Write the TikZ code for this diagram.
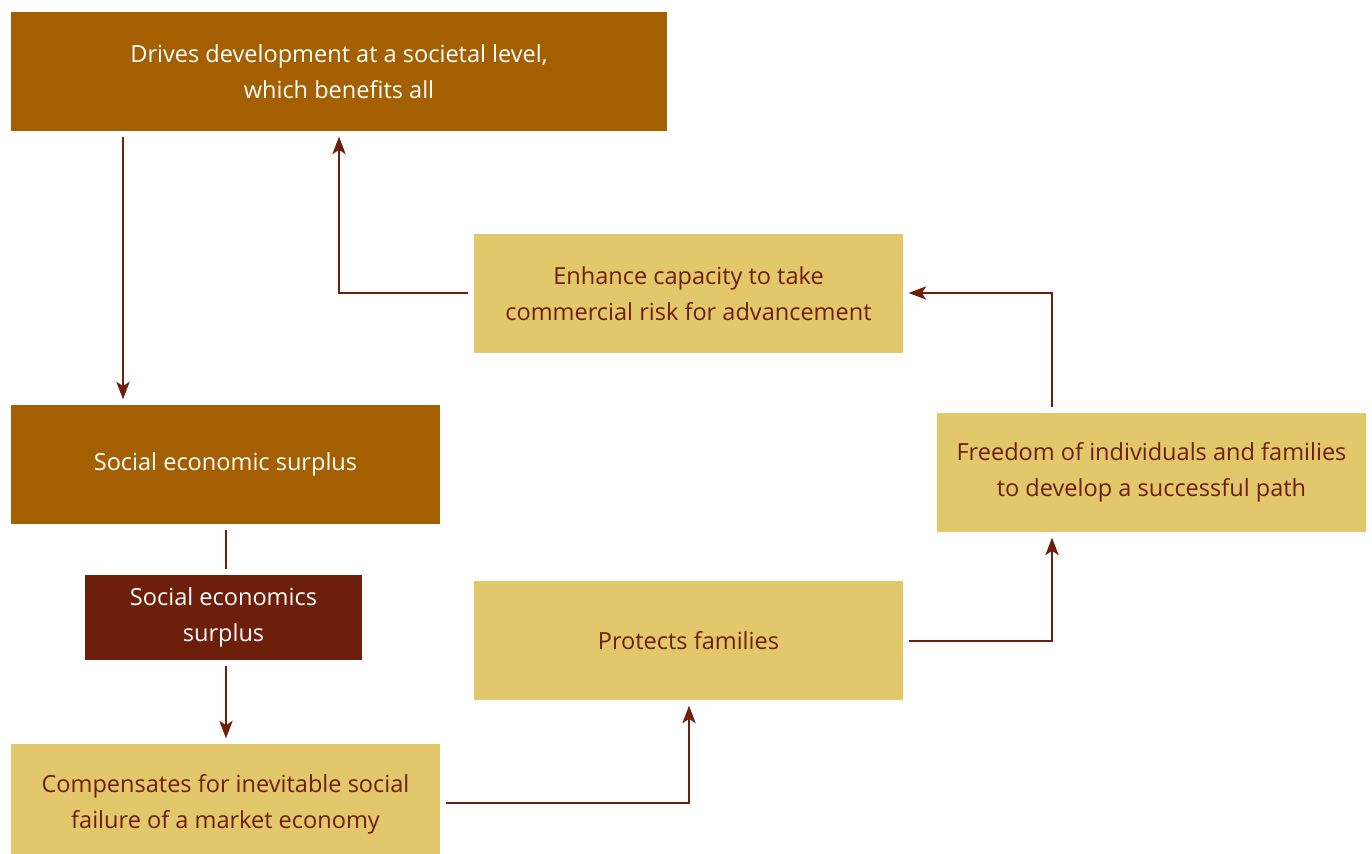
\documentclass[tikz,border=0pt]{standalone}
\usepackage{fontspec}
\setmainfont{Open Sans}
\usetikzlibrary{arrows.meta}
\definecolor{darkbrown}{HTML}{A35F00}
\definecolor{maroon}{HTML}{6E1F0C}
\definecolor{sand}{HTML}{E2C86A}
\begin{document}
\begin{tikzpicture}[x=0.02cm,y=-0.02cm,
    box/.style={inner sep=0pt,align=center,font=\fontsize{13.4}{20.6}\selectfont},
    brownbox/.style={box,fill=darkbrown,text=white},
    redbox/.style={box,fill=maroon,text=white},
    sandbox/.style={box,fill=sand,text=maroon},
    line/.style={draw=maroon,line width=1.3pt},
    link/.style={line,-{Stealth[length=10pt,width=7.5pt,inset=2.5pt]}}]
  \useasboundingbox (0,0) rectangle (1372,854);
  \begin{scope}
    \clip (0,0) rectangle (1372,854);
    \node[brownbox,minimum width=13.12cm,minimum height=2.38cm] (drives) at (339,71.5)
      {Drives development at a societal level,\\which benefits all};
    \node[brownbox,minimum width=8.58cm,minimum height=2.38cm] (surplus) at (225.5,464.5)
      {Social economic surplus};
    \node[redbox,minimum width=5.54cm,minimum height=1.7cm] (economics) at (223.5,617.5)
      {Social economics\\surplus};
    \node[sandbox,minimum width=8.58cm,minimum height=2.4cm] (compensates) at (225.5,804)
      {Compensates for inevitable social\\failure of a market economy};
    \node[sandbox,minimum width=8.58cm,minimum height=2.38cm] (enhance) at (688.5,293.5)
      {Enhance capacity to take\\commercial risk for advancement};
    \node[sandbox,minimum width=8.58cm,minimum height=2.38cm] (protects) at (688.5,640.5)
      {Protects families};
    \node[sandbox,minimum width=8.58cm,minimum height=2.38cm] (freedom) at (1151.5,472.5)
      {Freedom of individuals and families\\to develop a successful path};
  \end{scope}
  \coordinate (drivesdrop) at (123,400);
  \coordinate (surplusdrop) at (226,550);
  \coordinate (enhancecorner) at (339,293);
  \coordinate (freedomcorner) at (1052,293);
  \coordinate (protectscorner) at (1052,641);
  \coordinate (compcorner) at (689,803);
  % connectors
  \begin{scope}[shorten >=3pt,shorten <=3pt]
    \draw[link] (drives.south -| drivesdrop) -- (surplus.north -| drivesdrop);
    \draw[line] (surplus.south -| surplusdrop) -- (economics.north -| surplusdrop);
    \draw[link] (economics.south -| surplusdrop) -- (compensates.north -| surplusdrop);
    \draw[link] (compensates.east |- compcorner) -- (compcorner) -- (protects.south -| compcorner);
    \draw[link] (protects.east |- protectscorner) -- (protectscorner) -- (freedom.south -| protectscorner);
    \draw[link] (freedom.north -| freedomcorner) -- (freedomcorner) -- (enhance.east |- freedomcorner);
    \draw[link] (enhance.west |- enhancecorner) -- (enhancecorner) -- (drives.south -| enhancecorner);
  \end{scope}
\end{tikzpicture}
\end{document}
